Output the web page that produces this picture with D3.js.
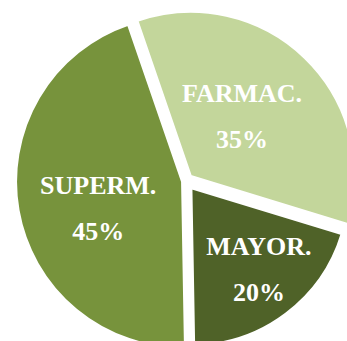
<!DOCTYPE html>
<html>
<head>
<meta charset="utf-8">
<script src="https://cdn.jsdelivr.net/npm/d3@7/dist/d3.min.js"></script>
<style>
  html, body { margin: 0; padding: 0; background: #ffffff; }
  svg { display: block; }
</style>
</head>
<body>
<svg id="chart" width="347" height="341"></svg>
<script>
// Sales share by channel
const categories = ["FARMAC.", "MAYOR.", "SUPERM."];
const values = [35, 20, 45];
const valueLabels = ["35%", "20%", "45%"];

const colors = ["#c3d69b", "#4f6228", "#77933c"];

// per-slice presentation: explode distance, radius, label placement
const explode = [7, 9, 4];
const radii = [164, 157, 166];
const labelDist = [79, 105, 88];
const labelAngleShift = [-3.6, -3, -7.6]; // degrees

const cx = 186, cy = 181;
const deg = Math.PI / 180;

const svg = d3.select("#chart");
const g = svg.append("g").attr("transform", `translate(${cx},${cy})`);

const pie = d3.pie()
  .sort(null)
  .value(d => d)
  .startAngle(-19 * deg)
  .endAngle(341 * deg);

const arcs = pie(values);

const slice = g.selectAll("g.slice")
  .data(arcs)
  .join("g")
  .attr("class", "slice")
  .attr("transform", (d, i) => {
    const mid = (d.startAngle + d.endAngle) / 2;
    return `translate(${Math.sin(mid) * explode[i]},${-Math.cos(mid) * explode[i]})`;
  });

slice.append("path")
  .attr("d", (d, i) => d3.arc().innerRadius(0).outerRadius(radii[i])(d))
  .attr("fill", (d, i) => colors[i])
  .attr("stroke", "#ffffff")
  .attr("stroke-width", 2)
  .attr("stroke-linejoin", "round");

const label = slice.append("text")
  .attr("text-anchor", "middle")
  .attr("fill", "#ffffff")
  .attr("font-family", "'Liberation Serif', 'Times New Roman', serif")
  .attr("font-weight", "bold")
  .attr("font-size", 26)
  .attr("transform", (d, i) => {
    const mid = (d.startAngle + d.endAngle) / 2 + labelAngleShift[i] * deg;
    return `translate(${Math.sin(mid) * labelDist[i]},${-Math.cos(mid) * labelDist[i]})`;
  });

label.append("tspan")
  .attr("x", 0)
  .attr("y", -14)
  .text((d, i) => categories[i]);

label.append("tspan")
  .attr("x", 0)
  .attr("y", 32)
  .text((d, i) => valueLabels[i]);
</script>
</body>
</html>
